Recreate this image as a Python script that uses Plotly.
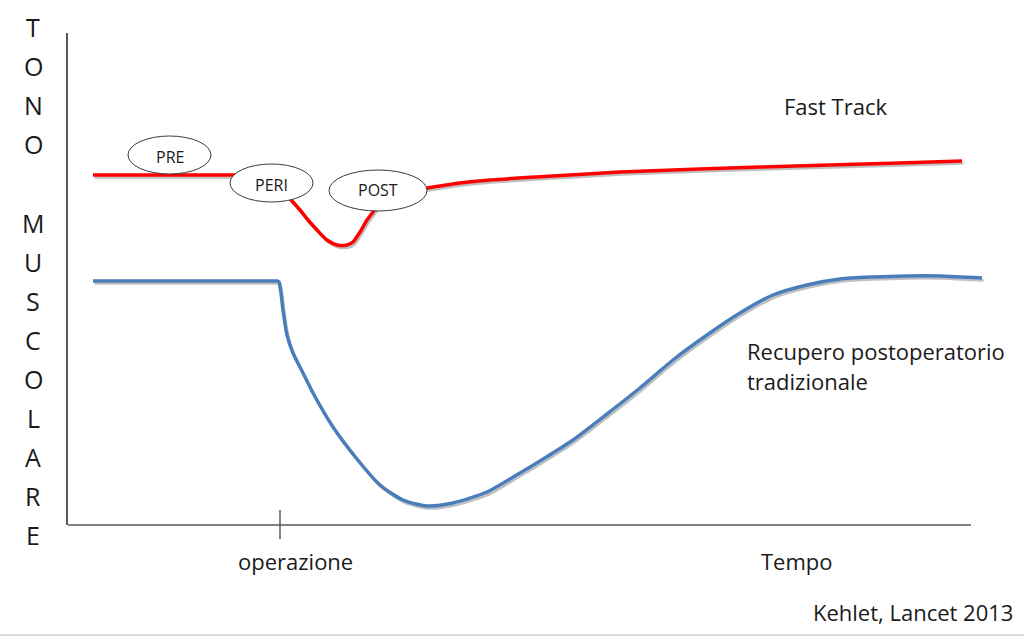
import plotly.graph_objects as go

# ---- data (x: time units, y: muscle tone units) ----
fast_track_x = [25, 100, 160, 172, 194, 212, 224, 232, 240, 249, 259, 269, 279, 285, 292, 299, 305,
                312, 332, 359, 372, 392, 422, 485, 552, 632, 692, 762, 832, 894]
fast_track_y = [350, 350, 350, 350, 348, 337, 324, 315, 305, 295, 285, 280, 280, 283, 293, 305, 313,
                322, 333, 337, 339, 342, 345, 349, 353, 356, 358, 360, 362, 364]

tradizionale_x = [25, 100, 180, 205, 209, 211, 212, 213, 215, 219, 225, 235, 245, 265, 289, 312, 335, 359,
                  385, 419, 452, 472, 505, 539, 572, 605, 639, 672, 705, 739, 772, 805, 839, 872, 914]
tradizionale_y = [244, 244, 244, 244, 244, 243, 238, 232, 215, 190, 172, 152, 132, 98, 66, 40, 25, 19,
                  22, 33, 52, 64, 85, 111, 137, 165, 190, 212, 230, 240, 246, 248, 249, 249, 247]

y_letters = ["T", "O", "N", "O", "", "M", "U", "S", "C", "O", "L", "A", "R", "E"]
phase_labels = ["PRE", "PERI", "POST"]
series_labels = ["Fast Track", "Recupero postoperatorio", "tradizionale"]
x_labels = ["operazione", "Tempo"]
source_label = "Kehlet, Lancet 2013"

FONT = "Open Sans"
TXT = "#1a1a1a"
AX = "#5a5a5a"

W_PLOT = 922.0
H_PLOT = 492.0
L, T = 68, 33


def px(xp):
    return (xp - L) / W_PLOT


def py(yp):
    return (T + H_PLOT - yp) / H_PLOT


fig = go.Figure()

# soft shadows under the lines
for xs, ys in [(fast_track_x, fast_track_y), (tradizionale_x, tradizionale_y)]:
    fig.add_trace(go.Scatter(x=[v + 1.5 for v in xs], y=[v - 2.5 for v in ys], mode="lines",
                             line=dict(color="rgba(0,0,0,0.25)", width=2.5, shape="spline", smoothing=0.7),
                             hoverinfo="skip", showlegend=False))

fig.add_trace(go.Scatter(x=fast_track_x, y=fast_track_y, mode="lines", name="Fast Track",
                         line=dict(color="#ff0000", width=3.5, shape="spline", smoothing=0.7),
                         showlegend=False))
fig.add_trace(go.Scatter(x=tradizionale_x, y=tradizionale_y, mode="lines", name="Tradizionale",
                         line=dict(color="#4a7ebb", width=3.5, shape="spline", smoothing=0.7),
                         showlegend=False))

shapes = []
# x axis line (shorter than the plotting area)
shapes.append(dict(type="line", xref="paper", yref="paper", x0=0, x1=px(971), y0=0, y1=0,
                   line=dict(color=AX, width=1.5)))
# operation tick crossing the axis
shapes.append(dict(type="line", xref="paper", yref="paper", x0=px(280), x1=px(280),
                   y0=py(510), y1=py(539), line=dict(color=AX, width=1.5)))
# faint bottom rule
shapes.append(dict(type="line", xref="paper", yref="paper", x0=px(0), x1=px(1024),
                   y0=py(635), y1=py(635), line=dict(color="#dcdcdc", width=2)))

# phase ellipses (white filled, above the lines)
ellipses = [(101.5, 370, 41.5, 19), (203.5, 342, 41.5, 19), (310, 334.5, 49, 20.5)]
for cx, cy, rx, ry in ellipses:
    shapes.append(dict(type="circle", xref="x", yref="y", x0=cx - rx, x1=cx + rx,
                       y0=cy - ry, y1=cy + ry, layer="above", fillcolor="white",
                       line=dict(color="#3a3a3a", width=1)))

annotations = []
label_pos = [(101.5, 368), (203.5, 340), (310, 335)]
for lab, (ax_, ay_) in zip(phase_labels, label_pos):
    annotations.append(dict(x=ax_, y=ay_, xref="x", yref="y", text=lab, showarrow=False,
                            xanchor="center", yanchor="middle",
                            font=dict(family=FONT, size=16, color=TXT)))

for i, ch in enumerate(y_letters):
    if ch:
        annotations.append(dict(x=px(33), y=py(27 + 39.1 * i), xref="paper", yref="paper", text=ch,
                                showarrow=False, borderpad=0, xanchor="center", yanchor="middle",
                                font=dict(family=FONT, size=25, color=TXT)))


def txt(text, xp, yp, anchor="center"):
    annotations.append(dict(x=px(xp), y=py(yp), xref="paper", yref="paper", text=text,
                            showarrow=False, xanchor=anchor, yanchor="middle",
                            font=dict(family=FONT, size=22, color=TXT)))


txt(series_labels[0], 835, 106)
txt(series_labels[1], 745, 351, "left")
txt(series_labels[2], 745, 381, "left")
txt(x_labels[0], 295, 561)
txt(x_labels[1], 797, 561)
txt(source_label, 1015, 612, "right")

fig.update_layout(
    width=1024, height=637,
    margin=dict(l=L, r=1024 - L - int(W_PLOT), t=T, b=637 - T - int(H_PLOT)),
    paper_bgcolor="white", plot_bgcolor="white",
    xaxis=dict(range=[0, W_PLOT], showgrid=False, zeroline=False, showticklabels=False,
               ticks="", showline=False, fixedrange=True),
    yaxis=dict(range=[0, H_PLOT], showgrid=False, zeroline=False, showticklabels=False,
               ticks="", showline=True, linecolor=AX, linewidth=1.5, fixedrange=True),
    shapes=shapes, annotations=annotations, showlegend=False,
)

fig.write_html("out.html", config={"displayModeBar": False},
               post_script="document.body.style.margin='0';document.body.style.overflow='hidden';")
